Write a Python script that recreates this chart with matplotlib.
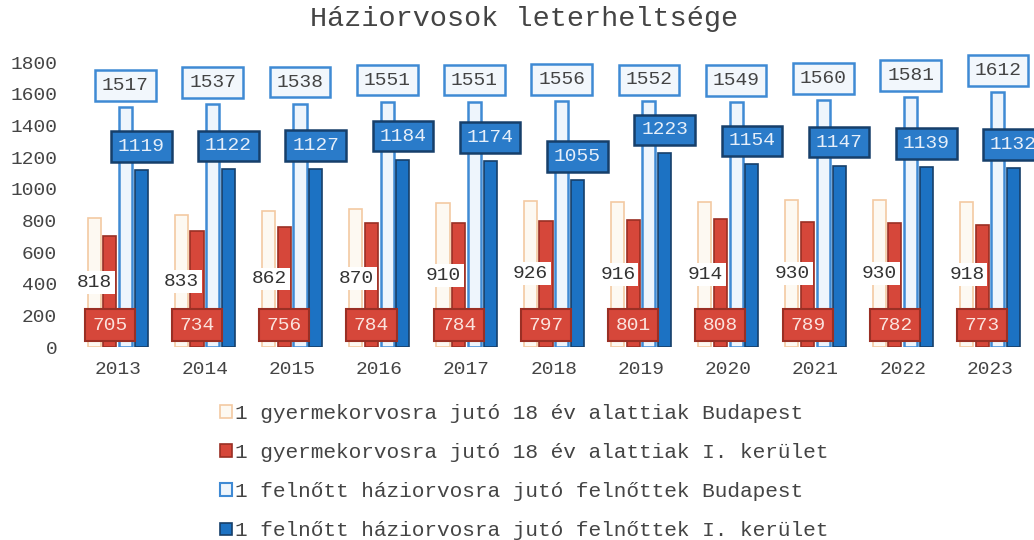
import numpy as np
import matplotlib
matplotlib.use("Agg")
import matplotlib.pyplot as plt
from matplotlib.patches import Patch

# -------------------------------
# Data
# -------------------------------
years = ["2013", "2014", "2015", "2016", "2017", "2018",
         "2019", "2020", "2021", "2022", "2023"]
gyermek_bp = [818, 833, 862, 870, 910, 926, 916, 914, 930, 930, 918]
gyermek_i = [705, 734, 756, 784, 784, 797, 801, 808, 789, 782, 773]
felnott_bp = [1517, 1537, 1538, 1551, 1551, 1556, 1552, 1549, 1560, 1581, 1612]
felnott_i = [1119, 1122, 1127, 1184, 1174, 1055, 1223, 1154, 1147, 1139, 1132]

labels = [
    "1 gyermekorvosra jutó 18 év alattiak Budapest",
    "1 gyermekorvosra jutó 18 év alattiak I. kerület",
    "1 felnőtt háziorvosra jutó felnőttek Budapest",
    "1 felnőtt háziorvosra jutó felnőttek I. kerület",
]

# -------------------------------
# Style
# -------------------------------
plt.rcParams["font.family"] = ["Liberation Mono", "DejaVu Sans Mono"]
txt_col = "#444444"

c_or_face, c_or_edge = "#fdf9f2", "#f3c9a2"
c_red_face, c_red_edge = "#d6473a", "#9a2f24"
c_lb_face, c_lb_edge = "#eef5fc", "#3f8ad4"
c_db_face, c_db_edge = "#1c72c3", "#163f6a"

fig = plt.figure(figsize=(10.34, 5.4), dpi=100)
ax = fig.add_axes([0.0716, 0.357, 0.928, 0.528])

x = np.arange(len(years))
step = 0.18
w = 0.15

ax.bar(x - 1.5 * step, gyermek_bp, w, color=c_or_face, edgecolor=c_or_edge, linewidth=1.2)
ax.bar(x - 0.5 * step, gyermek_i, w, color=c_red_face, edgecolor=c_red_edge, linewidth=1.2)
ax.bar(x + 0.5 * step, felnott_bp, w, color=c_lb_face, edgecolor=c_lb_edge, linewidth=1.8)
ax.bar(x + 1.5 * step, felnott_i, w, color=c_db_face, edgecolor=c_db_edge, linewidth=1.2)

# -------------------------------
# Data labels
# -------------------------------
for i in range(len(years)):
    # light orange: centered, white background
    ax.text(x[i] - 1.5 * step + 0.005, gyermek_bp[i] / 2, str(gyermek_bp[i]),
            ha="center", va="center", fontsize=14, color="#333333", zorder=5,
            bbox=dict(boxstyle="square,pad=0.15", fc="white", ec="none"))
    # red: inside base
    ax.text(x[i] - 0.5 * step, 140, str(gyermek_i[i]),
            ha="center", va="center", fontsize=14, color="#fbe3de", zorder=6,
            bbox=dict(boxstyle="square,pad=0.38", fc=c_red_face, ec=c_red_edge, lw=1.5))
    # light blue: outside end
    ax.annotate(str(felnott_bp[i]), (x[i] + 0.5 * step, felnott_bp[i]),
                xytext=(0, 13), textcoords="offset pixels",
                ha="center", va="bottom", fontsize=14, color=txt_col, zorder=6,
                bbox=dict(boxstyle="square,pad=0.35", fc="#f2f7fc", ec=c_lb_edge, lw=1.8))
    # dark blue: outside end
    ax.annotate(str(felnott_i[i]), (x[i] + 1.5 * step, felnott_i[i]),
                xytext=(0, 15), textcoords="offset pixels",
                ha="center", va="bottom", fontsize=14, color="#e6effa", zorder=7,
                bbox=dict(boxstyle="square,pad=0.35", fc="#2a7bc9", ec=c_db_edge, lw=1.8))

# -------------------------------
# Axes
# -------------------------------
ax.set_xlim(-0.5, len(years) - 0.5)
ax.set_ylim(0, 1800)
ax.set_yticks(range(0, 1801, 200))
ax.set_xticks(x)
ax.set_xticklabels(years)
ax.tick_params(axis="both", length=0, labelsize=14, labelcolor=txt_col)
ax.tick_params(axis="x", pad=10)
ax.tick_params(axis="y", pad=12)
for s in ax.spines.values():
    s.set_visible(False)

fig.text(0.507, 0.965, "Háziorvosok leterheltsége", ha="center", va="center",
         fontsize=20.5, color=txt_col)

handles = [
    Patch(facecolor=c_or_face, edgecolor=c_or_edge, linewidth=1.2),
    Patch(facecolor=c_red_face, edgecolor=c_red_edge, linewidth=1.2),
    Patch(facecolor=c_lb_face, edgecolor=c_lb_edge, linewidth=1.5),
    Patch(facecolor=c_db_face, edgecolor=c_db_edge, linewidth=1.2),
]
leg = fig.legend(handles, labels, loc="upper center", bbox_to_anchor=(0.507, 0.271),
                 frameon=False, fontsize=15.2, handlelength=0.55, handleheight=0.55,
                 handletextpad=0.15, labelspacing=0.95, borderpad=0)
for t in leg.get_texts():
    t.set_color(txt_col)

fig.savefig("out.png", dpi=100)
